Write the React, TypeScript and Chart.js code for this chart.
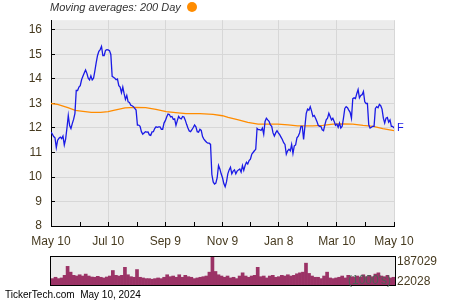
import React, { useEffect, useRef } from 'react';
import { Chart, registerables } from 'chart.js';

Chart.register(...registerables);

const FONT = "'Liberation Sans', Arial, Helvetica, sans-serif";
const LABEL_COLOR = '#463a1f';
const PRICE_COLOR = '#1a1ae6';
const MA_COLOR = '#ff8c00';
const VOLUME_COLOR = '#9b3366';

// Daily closing prices, May 10 2023 -> May 10 2024
const priceValues = [
  11.83, 11.75, 11.65, 11.6, 11.2, 11.5, 11.58, 11.63, 11.57, 11.67, 11.31, 11.55, 12.0, 12.51, 12.1, 11.98,
  12.18, 12.35, 12.6, 13.53, 13.53, 13.67, 13.73, 13.97, 14.11, 14.24, 14.37, 14.23, 14.03, 13.96, 14.13, 13.96,
  14.03, 14.33, 14.67, 14.96, 15.13, 15.2, 15.33, 14.96, 14.96, 15.17, 15.2, 15.19, 15.16, 15.0, 14.11, 14.07,
  14.03, 13.97, 14.0, 13.73, 13.67, 13.44, 13.67, 13.4, 13.17, 13.33, 13.07, 13.04, 12.93, 12.91,
  12.87, 12.8, 12.73, 12.12, 12.12, 12.07, 11.85, 11.75, 11.8, 11.85, 11.83, 11.84, 11.72, 11.7, 11.84, 11.85,
  11.98, 12.05, 12.03, 12.05, 12.05, 11.95, 11.95, 12.2, 12.3, 12.45, 12.57, 12.55, 12.45, 12.47, 12.35, 12.37,
  12.11, 12.3, 12.47, 12.4, 12.37, 12.47, 12.45, 12.32, 12.15, 12.0, 11.88, 11.85, 11.93, 12.02, 12.12, 12.05,
  11.85, 11.83, 11.95, 11.9, 11.65, 11.55, 11.48, 11.42, 11.38, 11.38, 11.33, 10.1, 9.8, 9.71, 9.75, 9.97,
  10.47, 10.33, 10.13, 9.97, 9.73, 9.6, 9.8, 10.13, 10.29, 10.4, 10.13, 10.24, 10.29, 10.13, 10.24, 10.29,
  10.33, 10.2, 10.47, 10.27, 10.47, 10.6, 10.53, 10.67, 10.73, 10.93, 11.0, 11.07, 11.13, 11.98, 11.93, 11.93,
  11.9, 12.0, 11.75, 12.27, 12.4, 12.33, 12.27, 12.13, 12.07, 11.8, 11.67, 11.8, 11.89, 11.8, 11.73, 11.63,
  11.53, 11.4, 11.33, 10.93, 11.07, 11.13, 11.07, 11.33, 10.96, 11.27, 11.31, 11.6, 11.67, 11.8, 12.07, 12.07,
  11.53, 12.07, 12.6, 12.77, 12.73, 12.87, 12.69, 12.47, 12.51, 12.4, 12.27, 12.11, 12.07, 12.07, 11.93, 11.89,
  12.13, 12.33, 12.4, 12.6, 12.47, 12.33, 12.4, 12.27, 12.11, 12.16, 12.03, 12.2, 12.0, 12.07, 12.4, 12.8,
  12.87, 12.83, 12.73, 12.64, 12.4, 13.2, 13.23, 13.2, 13.4, 13.57, 13.23, 13.33, 13.36, 13.49, 13.07, 13.0,
  13.0, 12.13, 12.0, 12.03, 12.07, 12.07, 12.8, 12.87, 12.83, 12.96, 12.91, 12.77, 12.4, 12.2, 12.4, 12.43,
  12.24, 12.33, 12.07, 12.07, 12.0,
];

// 200 day moving average: day offset from May 10 2023, value
const maDays = [0, 7, 18, 26, 32, 43, 53, 61, 68, 79, 90, 101, 112, 123, 133, 144, 159, 173, 183, 189, 200, 210, 221, 231, 242, 253, 263, 279, 290, 301, 312, 322, 333, 344, 354, 366];
const maValues = [13.0, 12.96, 12.83, 12.72, 12.69, 12.64, 12.64, 12.67, 12.73, 12.82, 12.84, 12.83, 12.76, 12.67, 12.63, 12.59, 12.59, 12.56, 12.5, 12.43, 12.33, 12.23, 12.16, 12.16, 12.16, 12.13, 12.09, 12.09, 12.11, 12.16, 12.17, 12.16, 12.11, 12.07, 11.97, 11.89];

const SPAN_DAYS = 366;
const xTickDays = [0, 31, 61, 92, 122, 153, 183, 213, 243, 274, 305, 336, 366];
const xTickLabels = ['May 10', '', 'Jul 10', '', 'Sep 9', '', 'Nov 9', '', 'Jan 8', '', 'Mar 10', '', 'May 10'];
const yTickValues = [8, 8.5, 9, 9.5, 10, 10.5, 11, 11.5, 12, 12.5, 13, 13.5, 14, 14.5, 15, 15.5, 16];
const yTickLabels = ['8', '', '9', '', '10', '', '11', '', '12', '', '13', '', '14', '', '15', '', '16'];

// Volume (1000's)
const volumeValues = [
  42600, 51600, 42600, 47100, 64500, 124500, 85800, 64500, 60000, 68400, 60000, 72900, 60000, 53500, 51600, 58000,
  51600, 47100, 53500, 60000, 96800, 64500, 60000, 64500, 118000, 68400, 55500, 51600, 103200, 51600, 47100, 42600,
  42600, 38700, 42600, 47100, 42600, 51600, 68400, 55500, 60000, 51600, 68400, 51600, 64500, 55500, 51600, 42600,
  47100, 51600, 55500, 60000, 85800, 187029, 90300, 68400, 60000, 51600, 60000, 47100, 51600, 42600, 60000, 81300,
  60000, 51600, 60000, 64500, 118000, 55500, 60000, 47100, 60000, 64500, 51600, 55500, 64500, 60000, 68400, 60000,
  64500, 74800, 81300, 85800, 145800, 77400, 60000, 51600, 51600, 42600, 60000, 85800, 47100, 42600, 47100, 51600,
  60000, 47100, 64500, 55500, 51600, 60000, 51600, 68400, 55500, 64500, 55500, 72900, 81300, 60000, 55500, 64500,
  47100, 51600,
];
const volumeTickValues = [187029, 22028];
const volumeTickLabels = ['187029', '22028'];

const titleText = 'Moving averages: 200 Day';
const tickerLabel = 'F';
const footerText = 'TickerTech.com\u00a0\u00a0May 10, 2024';
const volumeUnitText = "(1000's)";

const plotBackground = {
  id: 'plotBackground',
  beforeDraw(chart: any) {
    const { ctx, chartArea: a } = chart;
    ctx.save();
    ctx.fillStyle = '#ececec';
    ctx.fillRect(a.left, a.top, a.right - a.left, a.bottom - a.top);
    ctx.restore();
  },
};

const endLabel = {
  id: 'endLabel',
  afterDatasetsDraw(chart: any) {
    const { ctx, chartArea: a } = chart;
    const y = chart.scales.y.getPixelForValue(priceValues[priceValues.length - 1]);
    ctx.save();
    ctx.font = `11px ${FONT}`;
    ctx.fillStyle = PRICE_COLOR;
    ctx.textAlign = 'left';
    ctx.textBaseline = 'middle';
    ctx.fillText(tickerLabel, a.right + 3, y);
    ctx.restore();
  },
};

const volumeFrame = {
  id: 'volumeFrame',
  afterDraw(chart: any) {
    const { ctx, chartArea: a } = chart;
    ctx.save();
    ctx.strokeStyle = '#000';
    ctx.lineWidth = 1;
    ctx.strokeRect(a.left - 0.5, a.top - 0.5, a.right - a.left + 1, a.bottom - a.top + 1);
    const s = chart.scales.y;
    ctx.font = `12px ${FONT}`;
    ctx.fillStyle = LABEL_COLOR;
    ctx.textAlign = 'left';
    ctx.textBaseline = 'middle';
    volumeTickValues.forEach((v, i) => {
      let y = s.getPixelForValue(v);
      y = Math.min(Math.max(y, a.top + 5), a.bottom - 3);
      ctx.fillText(volumeTickLabels[i], a.right + 2, y);
    });
    ctx.font = `12px ${FONT}`;
    ctx.fillStyle = 'rgba(70,100,85,0.9)';
    ctx.textAlign = 'right';
    ctx.fillText(volumeUnitText, a.right - 4, a.bottom - 4);
    ctx.restore();
  },
};

export default function App() {
  const mainRef = useRef<HTMLCanvasElement>(null);
  const volRef = useRef<HTMLCanvasElement>(null);

  useEffect(() => {
    const main = new Chart(mainRef.current as HTMLCanvasElement, {
      type: 'line',
      data: {
        datasets: [
          {
            data: priceValues.map((v, i) => ({ x: (i * SPAN_DAYS) / (priceValues.length - 1), y: v })),
            borderColor: PRICE_COLOR,
            borderWidth: 1.3,
            pointRadius: 0,
            tension: 0,
          },
          {
            data: maDays.map((d, i) => ({ x: d, y: maValues[i] })),
            borderColor: MA_COLOR,
            borderWidth: 1.3,
            pointRadius: 0,
            tension: 0,
          },
        ],
      },
      options: {
        animation: false,
        responsive: false,
        events: [],
        layout: { padding: { top: 16, right: 56, left: 0, bottom: 0 } },
        plugins: { legend: { display: false }, tooltip: { enabled: false } },
        scales: {
          x: {
            type: 'linear',
            min: 0,
            max: SPAN_DAYS,
            afterBuildTicks: (s: any) => {
              s.ticks = xTickDays.map((v) => ({ value: v }));
            },
            afterFit: (s: any) => {
              s.height = 22;
            },
            ticks: {
              autoSkip: false,
              maxRotation: 0,
              padding: 12,
              color: LABEL_COLOR,
              font: { family: FONT, size: 12 },
              callback: (_v: any, i: number) => xTickLabels[i],
            },
            grid: {
              color: (c: any) => (xTickLabels[c.index] ? '#d7d7d7' : 'rgba(0,0,0,0)'),
              tickColor: '#000',
              tickLength: -4,
              drawTicks: true,
            },
            border: { color: '#000', width: 1 },
          },
          y: {
            type: 'linear',
            min: 8,
            max: 16.4,
            afterBuildTicks: (s: any) => {
              s.ticks = yTickValues.map((v) => ({ value: v }));
            },
            afterFit: (s: any) => {
              s.width = 51;
            },
            ticks: {
              padding: 13,
              color: LABEL_COLOR,
              font: { family: FONT, size: 12 },
              callback: (_v: any, i: number) => yTickLabels[i],
            },
            grid: {
              color: (c: any) => (yTickLabels[c.index] ? '#d7d7d7' : 'rgba(0,0,0,0)'),
              tickColor: '#000',
              tickLength: -4,
              drawTicks: true,
            },
            border: { color: '#000', width: 1 },
          },
        },
      } as any,
      plugins: [plotBackground, endLabel],
    });

    const vol = new Chart(volRef.current as HTMLCanvasElement, {
      type: 'bar',
      data: {
        labels: volumeValues.map((_, i) => String(i)),
        datasets: [
          {
            data: volumeValues,
            backgroundColor: VOLUME_COLOR,
            borderWidth: 0,
            barPercentage: 1,
            categoryPercentage: 1,
          },
        ],
      },
      options: {
        animation: false,
        responsive: false,
        events: [],
        layout: { padding: { top: 9, bottom: 7, left: 51, right: 55 } },
        plugins: { legend: { display: false }, tooltip: { enabled: false } },
        scales: {
          x: { display: false },
          y: { display: false, min: 0, max: Math.max(...volumeValues) },
        },
      } as any,
      plugins: [plotBackground, volumeFrame],
    });

    return () => {
      main.destroy();
      vol.destroy();
    };
  }, []);

  return (
    <div
      style={{
        position: 'absolute',
        left: 0,
        top: 0,
        width: 450,
        height: 300,
        background: '#fff',
        overflow: 'hidden',
        fontFamily: FONT,
      }}
    >
      <canvas ref={mainRef} width={450} height={248} style={{ position: 'absolute', left: 0, top: 0, width: 450, height: 248 }} />
      <canvas ref={volRef} width={450} height={44} style={{ position: 'absolute', left: 0, top: 248, width: 450, height: 44 }} />
      <div
        style={{
          position: 'absolute',
          left: 50,
          top: 2,
          fontSize: 11,
          lineHeight: '11px',
          fontStyle: 'italic',
          color: '#333',
          whiteSpace: 'nowrap',
        }}
      >
        {titleText}
      </div>
      <div
        style={{
          position: 'absolute',
          left: 187,
          top: 2,
          width: 10,
          height: 10,
          borderRadius: '50%',
          background: MA_COLOR,
        }}
      />
      <div
        style={{
          position: 'absolute',
          left: 5,
          top: 290,
          fontSize: 10,
          lineHeight: '10px',
          color: '#000',
          whiteSpace: 'nowrap',
        }}
      >
        {footerText}
      </div>
    </div>
  );
}
